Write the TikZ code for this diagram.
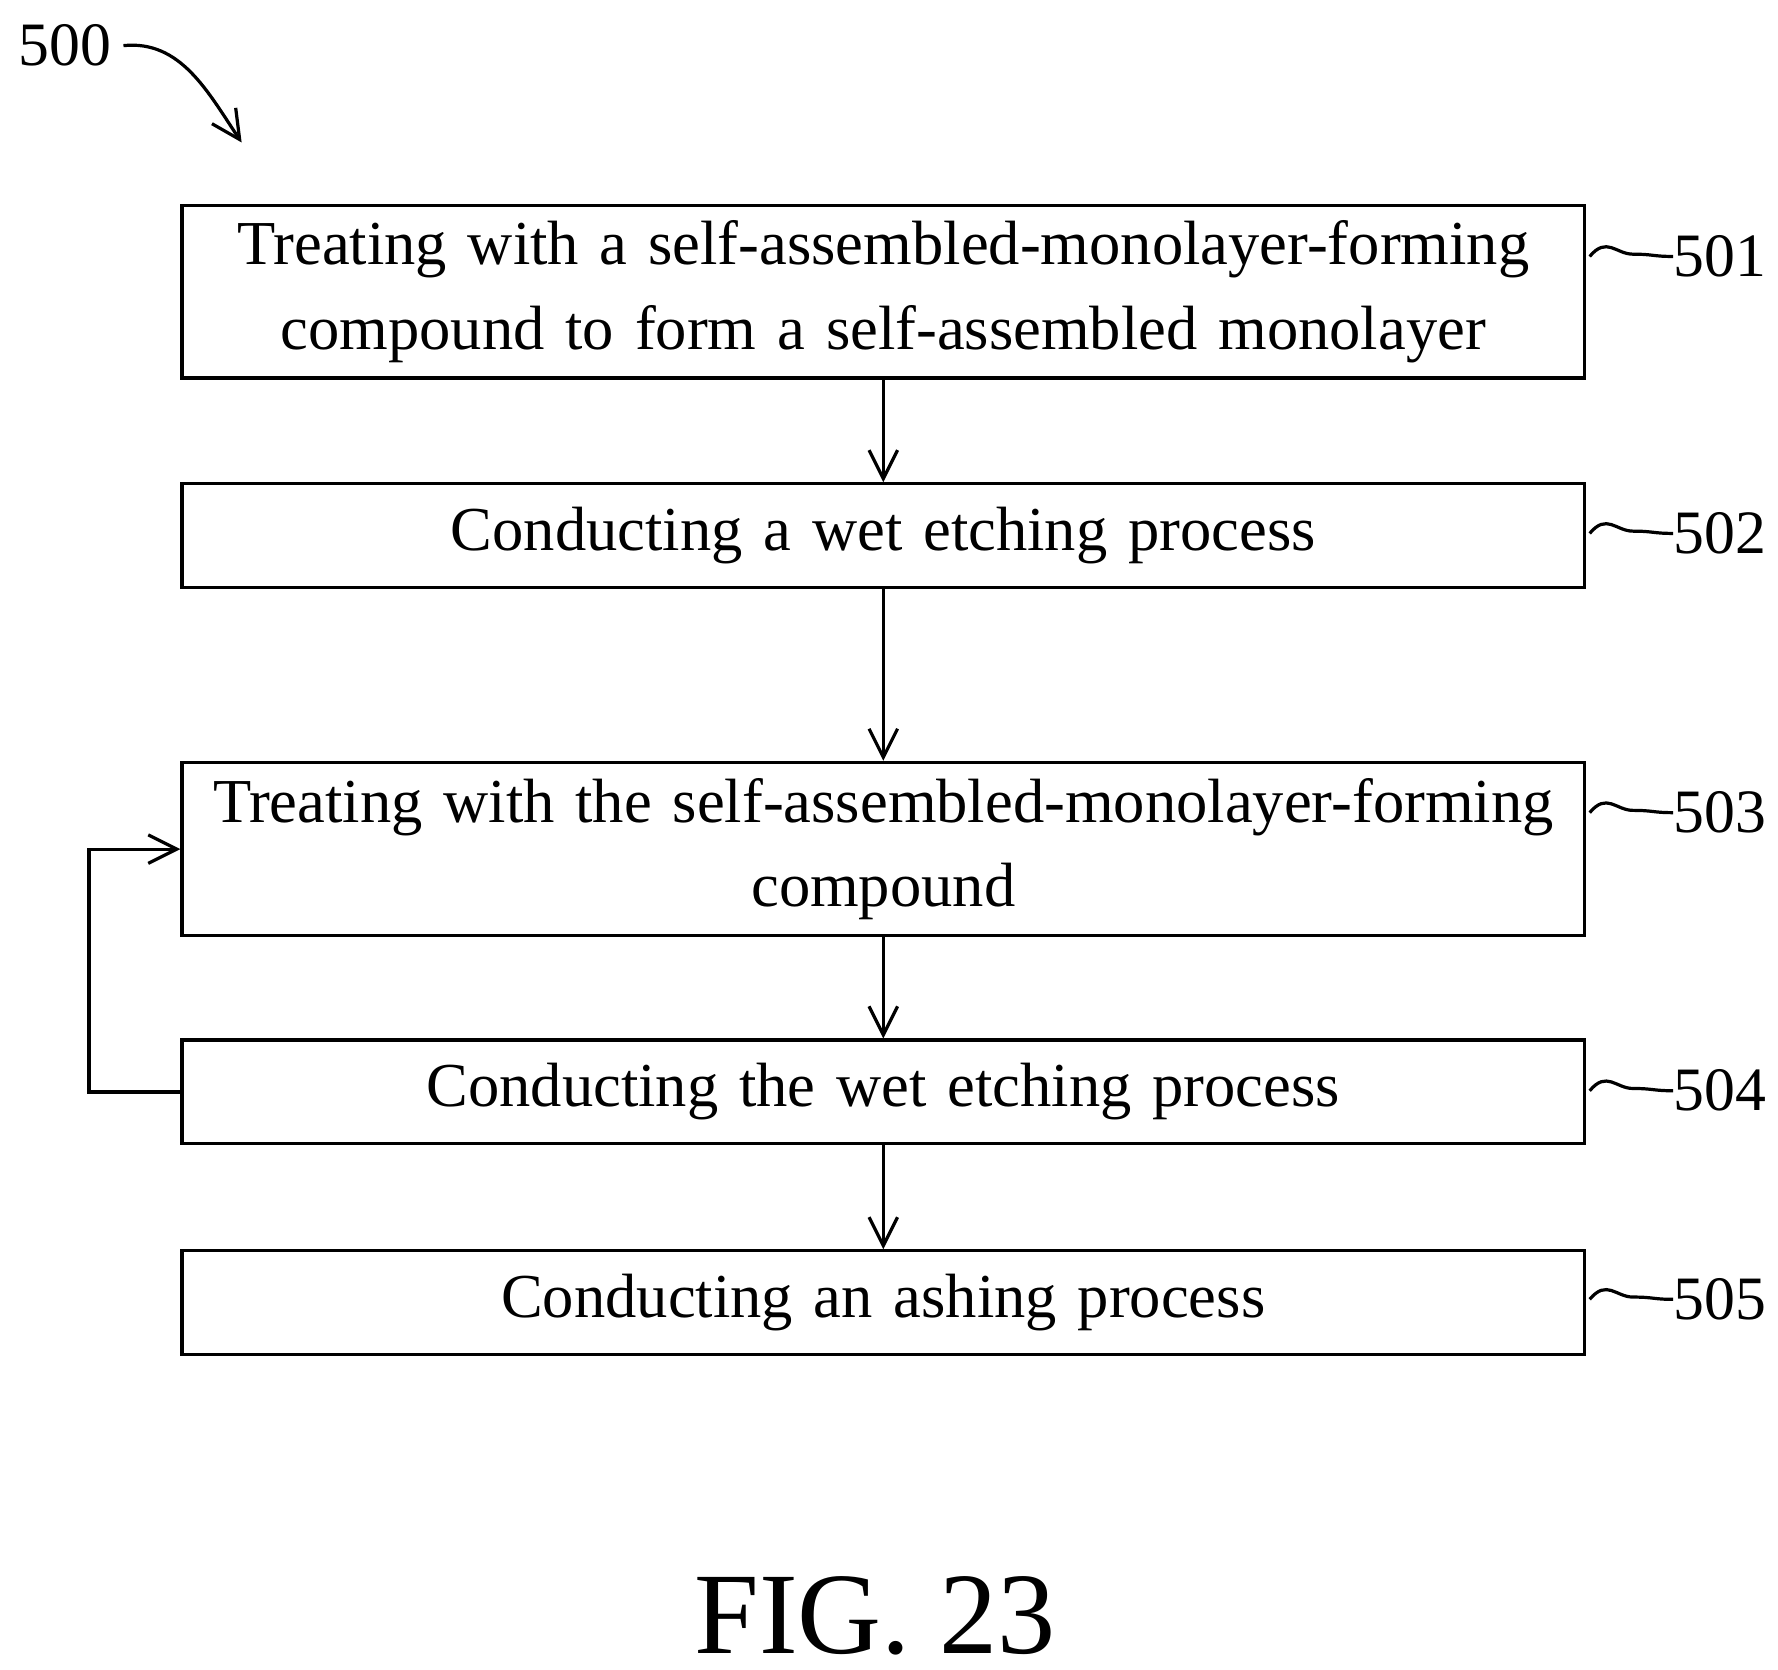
\documentclass[tikz,border=0pt]{standalone}
\usepackage{fontspec}
\setmainfont{Liberation Serif}
\usetikzlibrary{arrows.meta}
\tikzset{
  procbox/.style={draw, thick, text width=12.3cm, align=center, font=\fontsize{15.6}{21}\selectfont, inner sep=0pt},
  tag/.style={font=\fontsize{15.4}{19}\selectfont, anchor=west, inner sep=0pt},
  flow/.style={-{Straight Barb[length=2.5mm,width=2.5mm]}, thick},
}
\begin{document}
\begin{tikzpicture}[x=0.01cm, y=-0.01cm] % {{{
\useasboundingbox (0,0) rectangle (1560,1465);
% Steps   {{{
\node[procbox, minimum height=1.51cm] (s501) at (775,256) {Treating with a self-assembled-monolayer-forming\\compound to form a self-assembled monolayer};
\node[procbox, minimum height=0.91cm] (s502) at (775,470) {Conducting a wet etching process};
\node[procbox, minimum height=1.52cm] (s503) at (775,745) {Treating with the self-assembled-monolayer-forming\\compound};
\node[procbox, minimum height=0.91cm] (s504) at (775,958) {Conducting the wet etching process};
\node[procbox, minimum height=0.91cm] (s505) at (775,1143) {Conducting an ashing process};
% }}}
% Labels {{{
\foreach \n/\y in {501/225, 502/468, 503/713, 504/957, 505/1140} {
  \node[tag] (t\n) at (1468,\y) {\n};
  \draw[thick] (s\n.east |- t\n.west) ++(3,0) .. controls +(15,-18) and +(-15,0) .. +(38,-2)
    .. controls +(18,0) and +(-18,0) .. (t\n.west);
}
\node[font=\fontsize{15.4}{19}\selectfont, inner sep=0pt] (t500) at (57,40) {500};
\coordinate (c500) at (212,125);
\draw[flow] (t500.east) ++(10,0) .. controls +(50,-5) and +(-30,-45) .. (c500);
\node[font=\fontsize{29}{34}\selectfont, inner sep=0pt] (fig) at (768,1418) {FIG. 23};
% }}}
% Arrows {{{
\draw[flow] (s501) -- (s502);
\draw[flow] (s502) -- (s503);
\draw[flow] (s503) -- (s504);
\draw[flow] (s504) -- (s505);
\coordinate (back) at (78,958);
\draw[flow] (s504.west) -- (back) -- (back |- s503.west) -- (s503.west);
% }}}
\end{tikzpicture} % }}}
\end{document}
